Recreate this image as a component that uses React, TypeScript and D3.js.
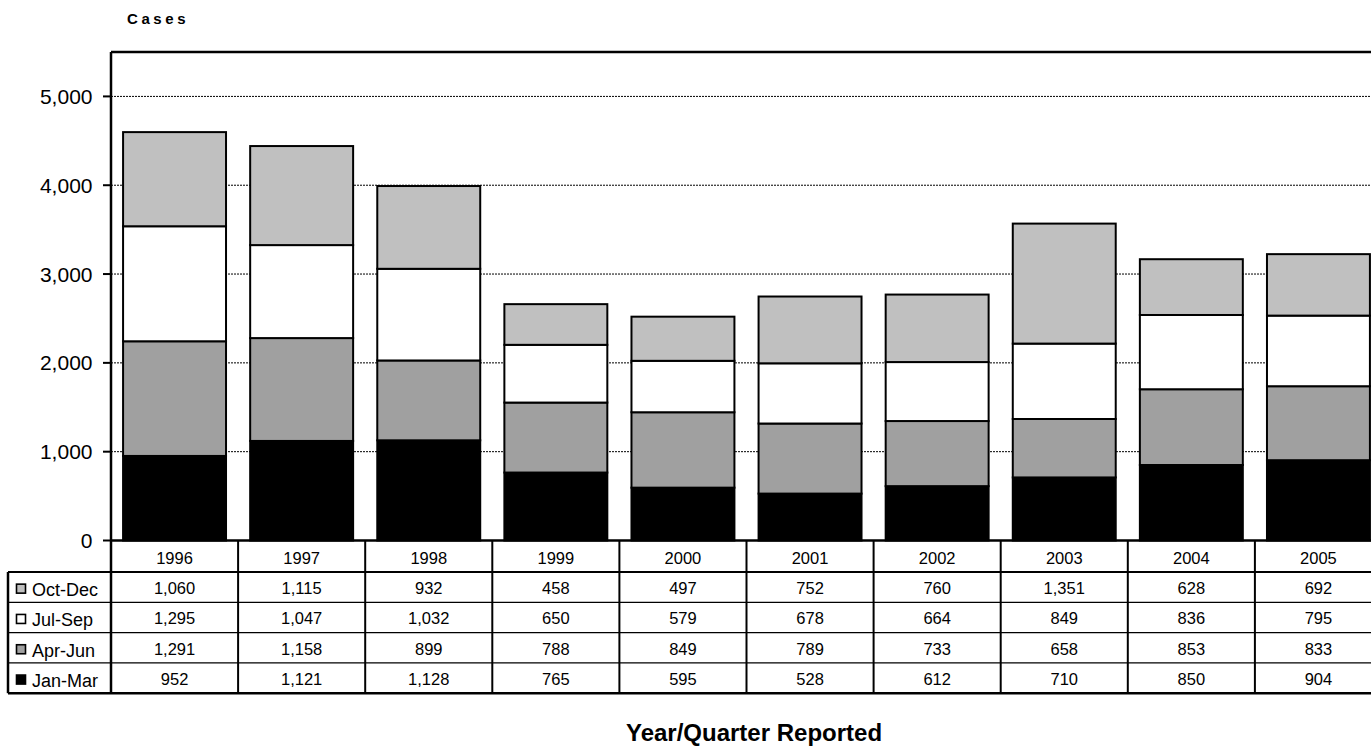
import React from "react";
import * as d3 from "d3";

const years = ["1996", "1997", "1998", "1999", "2000", "2001", "2002", "2003", "2004", "2005"];
const janMar = [952, 1121, 1128, 765, 595, 528, 612, 710, 850, 904];
const aprJun = [1291, 1158, 899, 788, 849, 789, 733, 658, 853, 833];
const julSep = [1295, 1047, 1032, 650, 579, 678, 664, 849, 836, 795];
const octDec = [1060, 1115, 932, 458, 497, 752, 760, 1351, 628, 692];
const seriesNames = ["Jan-Mar", "Apr-Jun", "Jul-Sep", "Oct-Dec"];
const seriesColors = ["#000000", "#a0a0a0", "#ffffff", "#c0c0c0"];
const yTicks = [0, 1000, 2000, 3000, 4000, 5000];

const W = 1371;
const H = 748;
const plotLeft = 111;
const plotTop = 52;
const plotBottom = 540.5;
const colW = 127.1;
const rowH = 30.3;
const legendLeft = 8;

export default function App() {
  const seriesValues = [janMar, aprJun, julSep, octDec];
  const rows = years.map((y, i) => {
    const r: any = { year: y };
    seriesNames.forEach((s, k) => (r[s] = seriesValues[k][i]));
    return r;
  });
  const stack = d3.stack().keys(seriesNames)(rows);

  const x = d3
    .scaleBand()
    .domain(years)
    .range([plotLeft, plotLeft + colW * years.length])
    .paddingInner(0.19)
    .paddingOuter(0.095);
  const colX = d3.scaleBand().domain(years).range([plotLeft, plotLeft + colW * years.length]);
  const y = d3.scaleLinear().domain([0, 5500]).range([plotBottom, plotTop]);
  const fmt = d3.format(",");

  const font = "'Liberation Sans', Arial, Helvetica, sans-serif";
  const right = plotLeft + colW * years.length;
  const tableRows = [...seriesNames].reverse(); // Oct-Dec first
  const headerBottom = plotBottom + 31.5;
  const tableBottom = headerBottom + rowH * 4;

  return (
    <svg
      width={W}
      height={H}
      style={{ position: "fixed", left: 0, top: 0, background: "#fff" }}
      fontFamily={font}
    >
      <rect x={0} y={0} width={W} height={H} fill="#fff" />
      {/* Y title */}
      <text x={127} y={23.5} fontSize={15} fontWeight="bold" letterSpacing={3.6} fill="#000">
        Cases
      </text>

      {/* gridlines */}
      {yTicks
        .filter((t) => t > 0)
        .map((t) => (
          <line
            key={t}
            x1={plotLeft}
            x2={right}
            y1={y(t)}
            y2={y(t)}
            stroke="#000"
            strokeWidth={1}
            strokeDasharray="2,1"
          />
        ))}

      {/* bars */}
      {stack.map((layer, k) => (
        <g key={layer.key}>
          {layer.map((d, i) => (
            <rect
              key={i}
              x={x(years[i])}
              y={y(d[1])}
              width={x.bandwidth()}
              height={y(d[0]) - y(d[1])}
              fill={seriesColors[k]}
              stroke="#000"
              strokeWidth={2}
            />
          ))}
        </g>
      ))}

      {/* plot frame */}
      <line x1={plotLeft} x2={right + 5} y1={plotTop} y2={plotTop} stroke="#000" strokeWidth={2.5} />
      <line x1={plotLeft} x2={plotLeft} y1={plotTop} y2={tableBottom} stroke="#000" strokeWidth={2.5} />
      <line x1={plotLeft} x2={right + 5} y1={plotBottom} y2={plotBottom} stroke="#000" strokeWidth={2.5} />

      {/* y ticks */}
      {yTicks.map((t) => (
        <g key={t}>
          <line x1={plotLeft - 8} x2={plotLeft} y1={y(t)} y2={y(t)} stroke="#000" strokeWidth={2} />
          <text x={92.5} y={y(t) + 7.5} fontSize={21} textAnchor="end" fill="#000">
            {fmt(t)}
          </text>
        </g>
      ))}

      {/* data table: column separators */}
      {years.map((yr) => (
        <line
          key={yr}
          x1={(colX(yr) as number) + colW}
          x2={(colX(yr) as number) + colW}
          y1={plotBottom}
          y2={tableBottom}
          stroke="#000"
          strokeWidth={2}
        />
      ))}
      {/* header row labels */}
      {years.map((yr) => (
        <text
          key={yr}
          x={(colX(yr) as number) + colW / 2}
          y={plotBottom + 23}
          fontSize={16.5}
          textAnchor="middle"
          fill="#000"
        >
          {yr}
        </text>
      ))}
      {/* horizontal lines */}
      <line x1={legendLeft} x2={right + 5} y1={headerBottom} y2={headerBottom} stroke="#000" strokeWidth={2} />
      {[1, 2, 3].map((r) => (
        <line
          key={r}
          x1={legendLeft}
          x2={right + 5}
          y1={headerBottom + rowH * r}
          y2={headerBottom + rowH * r}
          stroke="#000"
          strokeWidth={1.2}
        />
      ))}
      <line x1={legendLeft} x2={right + 5} y1={tableBottom} y2={tableBottom} stroke="#000" strokeWidth={2.5} />
      <line x1={legendLeft} x2={legendLeft} y1={headerBottom} y2={tableBottom} stroke="#000" strokeWidth={2.5} />

      {tableRows.map((name, r) => {
        const k = seriesNames.indexOf(name);
        const vals = seriesValues[k];
        const cy = headerBottom + rowH * r + rowH / 2;
        return (
          <g key={name}>
            <rect x={16.5} y={cy - 3} width={9} height={9} fill={seriesColors[k]} stroke="#000" strokeWidth={1.6} />
            <text x={32} y={cy + 9} fontSize={18} fill="#000">
              {name}
            </text>
            {years.map((yr, i) => (
              <text
                key={yr}
                x={(colX(yr) as number) + colW / 2}
                y={cy + 7}
                fontSize={16.5}
                textAnchor="middle"
                fill="#000"
              >
                {fmt(vals[i])}
              </text>
            ))}
          </g>
        );
      })}

      {/* x title */}
      <text x={754} y={741} fontSize={24} fontWeight="bold" textAnchor="middle" fill="#000">
        Year/Quarter Reported
      </text>
    </svg>
  );
}
